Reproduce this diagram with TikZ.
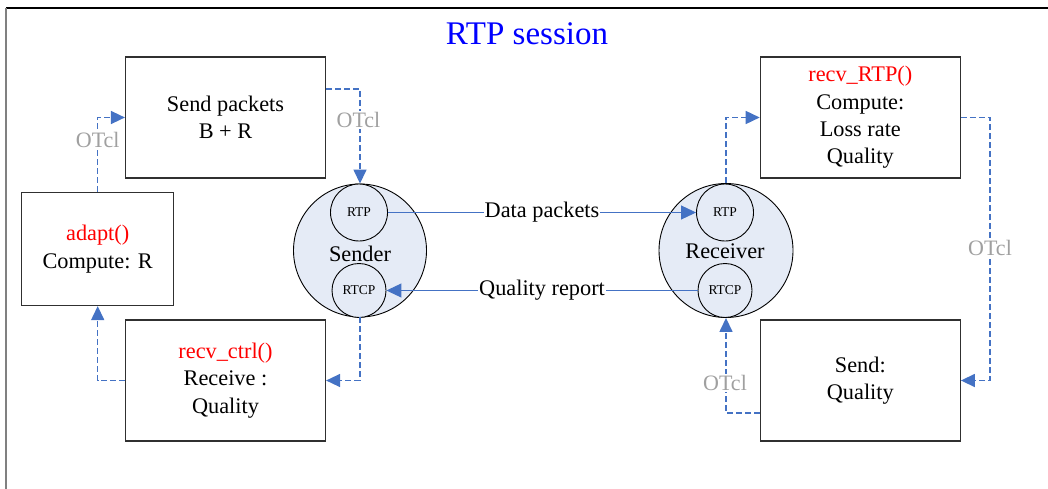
\documentclass[tikz,border=0pt]{standalone}
\usepackage{fontspec}
\setmainfont{Liberation Serif}
\usetikzlibrary{arrows.meta}

\definecolor{linkblue}{HTML}{4472C4}
\definecolor{otclgray}{HTML}{A0A0A0}
\definecolor{ballfill}{HTML}{E5EBF6}
\definecolor{boxline}{HTML}{303030}

\tikzset{
  procbox/.style={draw=boxline, line width=1.2pt, fill=white, minimum width=200pt,
    minimum height=121pt, align=center, inner sep=0pt,
    font=\fontsize{22.3}{27.3}\selectfont},
  smallbox/.style={procbox, minimum width=152pt, minimum height=113pt},
  ball/.style={circle, draw=black, line width=0.9pt, fill=ballfill, inner sep=0pt},
  port/.style={circle, draw=black, line width=0.9pt, fill=ballfill, inner sep=0pt,
    minimum size=56pt, font=\fontsize{13.5}{14}\selectfont},
  otcllink/.style={draw=linkblue, line width=1.5pt, dash pattern=on 6pt off 3pt,
    -{Triangle[length=14pt,width=13pt]}},
  datalink/.style={draw=linkblue, line width=1pt,
    -{Triangle[length=15pt,width=14pt]}},
  otcl/.style={fill=white, text=otclgray, inner sep=1pt, font=\fontsize{22}{24}\selectfont},
  linklabel/.style={fill=white, inner sep=1pt, font=\fontsize{22.3}{24}\selectfont}
}

\begin{document}
\begin{tikzpicture}[x=1pt, y=-1pt]
  \useasboundingbox (0,0) rectangle (1048,489);

  % frame
  \draw[black, line width=1.4pt] (6,8) -- (1048,8);
  \draw[gray, line width=2pt] (6,8) -- (6,489);

  % title
  \node[text=blue, font=\fontsize{33}{36}\selectfont] (title) at (527,34) {RTP session};

  % sender side boxes
  \node[procbox] (send) at (225.5,117.5) {Send packets\\B + R};
  \node[smallbox] (adapt) at (97.7,249) {\textcolor{red}{adapt()}\\Compute: R};
  \node[procbox] (ctrl) at (225.5,380.5) {\textcolor{red}{recv\_ctrl()}\\Receive :\\Quality};

  % receiver side boxes
  \node[procbox] (rtpbox) at (860.3,117.5) {\textcolor{red}{recv\_RTP()}\\Compute:\\Loss rate\\Quality};
  \node[procbox] (sendq) at (860.3,380.5) {Send:\\Quality};

  % sender and receiver with their ports
  \node[ball, minimum size=133pt] (sender) at (360,250.5) {};
  \node[port, minimum size=57pt] (srtp) at (359,212.5) {RTP};
  \node[port, minimum size=54pt] (srtcp) at (359,290.5) {RTCP};
  \node[font=\fontsize{22.3}{24}\selectfont, anchor=base] (sname) at (360,261) {Sender};

  \node[ball, minimum size=134pt] (receiver) at (726,250.5) {};
  \node[port, minimum size=57pt] (rrtp) at (725,212.5) {RTP};
  \node[port, minimum size=54pt] (rrtcp) at (725,290.5) {RTCP};
  \node[font=\fontsize{22.3}{24}\selectfont, anchor=base] (rname) at (725,258) {Receiver};

  % data and report flows
  \draw[datalink] (srtp.east) -- node[linklabel] (dlab) {Data packets} (rrtp.west);
  \draw[datalink] (rrtcp.west) -- node[linklabel] (qlab) {Quality report} (srtcp.east);

  % OTcl control loop, sender side
  \draw[otcllink] (adapt.north) |- (send.west);
  \draw[otcllink] ([yshift=28.5pt]send.east) -| (sender.north);
  \draw[otcllink] (sender.south) |- (ctrl.east);
  \draw[otcllink] (ctrl.west) -| (adapt.south);
  \node[otcl] (o1) at (97.7,140) {OTcl};
  \node[otcl] (o2) at (358.5,120) {OTcl};

  % OTcl control loop, receiver side
  \coordinate (rturn) at (990,250);
  \draw[otcllink] (receiver.north) |- (rtpbox.west);
  \draw[otcllink] (rtpbox.east) -| (rturn) |- (sendq.east);
  \draw[otcllink] ([yshift=-32.5pt]sendq.west) -| (receiver.south);
  \node[otcl] (o3) at (990,248) {OTcl};
  \node[otcl] (o4) at (725,383) {OTcl};
\end{tikzpicture}
\end{document}
